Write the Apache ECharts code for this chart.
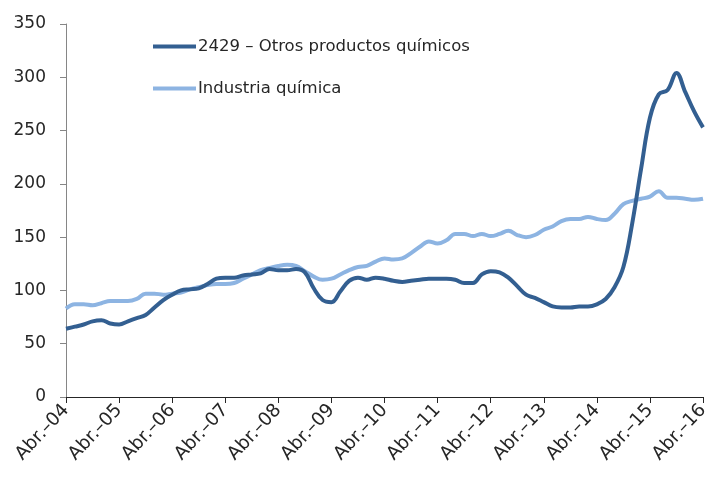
<!DOCTYPE html>
<html>
<head>
<meta charset="utf-8">
<script src="https://cdn.jsdelivr.net/npm/echarts@6/dist/echarts.min.js"></script>
<style>
  html, body { margin: 0; padding: 0; background: #fff; }
  #chart { width: 712px; height: 477px; }
</style>
</head>
<body>
<div id="chart"></div>
<script>
// meses bimestrales, abr-04 a abr-16
const monthNames = ['Abr.', 'Jun.', 'Ago.', 'Oct.', 'Dic.', 'Feb.'];
const categories = [];
for (let i = 0; i <= 72; i++) {
  // Feb pertenece al año siguiente
  const y = 4 + Math.floor(i / 6) + (i % 6 === 5 ? 1 : 0);
  categories.push(monthNames[i % 6] + '\u2013' + String(y).padStart(2, '0'));
}

const otrosQuimicos = [
  64, 66, 68, 71, 72, 69, 68, 71, 74, 77, 84, 91,
  96, 100, 101, 102, 106, 111, 112, 112, 114, 115, 116, 120,
  119, 119, 120, 117, 102, 91, 89, 99, 109, 112, 110, 112,
  111, 109, 108, 109, 110, 111, 111, 111, 110, 107, 107, 115,
  118, 117, 112, 104, 96, 93, 89, 85, 84, 84, 85, 85,
  87, 92, 103, 122, 163, 214, 262, 284, 288, 304, 286, 268,
  253
];

const industriaQuimica = [
  83, 87, 87, 86, 88, 90, 90, 90, 92, 97, 97, 96,
  97, 98, 101, 103, 105, 106, 106, 107, 111, 115, 119, 121,
  123, 124, 123, 118, 113, 110, 111, 115, 119, 122, 123, 127,
  130, 129, 130, 135, 141, 146, 144, 147, 153, 153, 151, 153,
  151, 153, 156, 152, 150, 152, 157, 160, 165, 167, 167, 169,
  167, 166, 172, 181, 184, 186, 188, 193, 187, 187, 186, 185,
  186
];

const chart = echarts.init(document.getElementById('chart'));

const option = {
  animation: false,
  textStyle: { fontFamily: 'DejaVu Sans' },
  grid: { left: 66, right: 6, top: 24, bottom: 80 },
  legend: {
    orient: 'vertical',
    left: 148,
    top: 33,
    itemGap: 25,
    itemWidth: 43,
    itemHeight: 4,
    icon: 'rect',
    textStyle: { fontSize: 16.5, color: '#262626', padding: [0, 0, 0, -3] },
    data: ['2429 \u2013 Otros productos químicos', 'Industria química']
  },
  xAxis: {
    type: 'category',
    data: categories,
    boundaryGap: false,
    axisLine: { lineStyle: { color: '#262626', width: 1 } },
    axisTick: { interval: 5, length: 6, lineStyle: { color: '#262626' } },
    axisLabel: {
      interval: 5,
      rotate: 47,
      margin: 10,
      fontSize: 18.5,
      color: '#262626'
    },
    splitLine: { show: false }
  },
  yAxis: {
    type: 'value',
    min: 0,
    max: 350,
    interval: 50,
    axisLine: { show: true, lineStyle: { color: '#868686' } },
    axisTick: { show: true, length: 6, lineStyle: { color: '#868686' } },
    axisLabel: { fontSize: 17, color: '#262626', margin: 20 },
    splitLine: { show: false }
  },
  series: [
    {
      name: '2429 \u2013 Otros productos químicos',
      type: 'line',
      data: otrosQuimicos,
      smooth: 0.4,
      showSymbol: false,
      color: '#335F91',
      lineStyle: { width: 4, color: '#335F91' },
      z: 3
    },
    {
      name: 'Industria química',
      type: 'line',
      data: industriaQuimica,
      smooth: 0.4,
      showSymbol: false,
      color: '#8DB4E2',
      lineStyle: { width: 4, color: '#8DB4E2' },
      z: 2
    }
  ]
};

chart.setOption(option);
</script>
</body>
</html>
